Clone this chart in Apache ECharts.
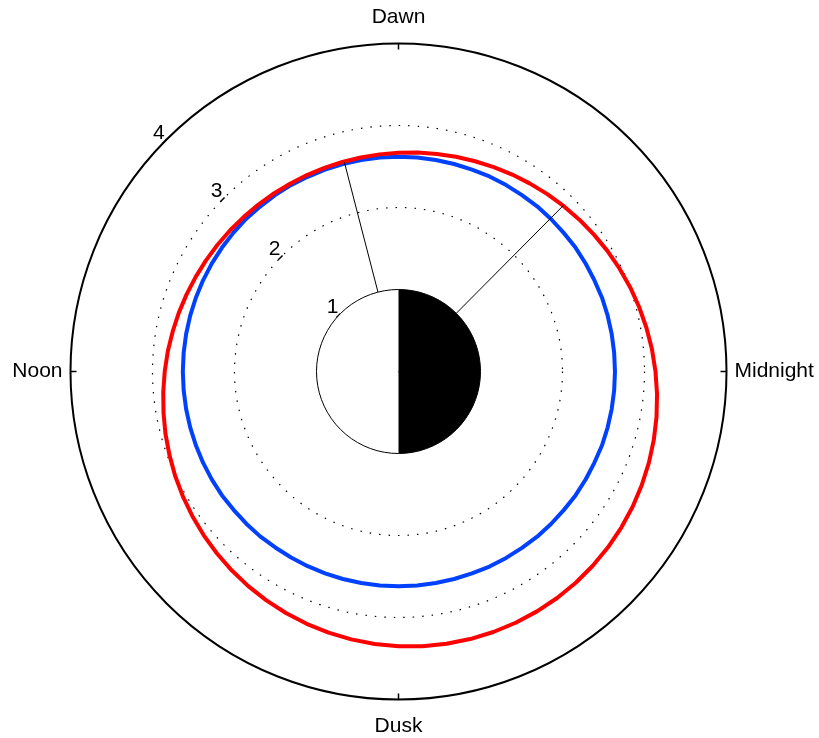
<!DOCTYPE html>
<html>
<head>
<meta charset="utf-8">
<script src="https://cdn.jsdelivr.net/npm/echarts@6/dist/echarts.min.js"></script>
<style>
html,body{margin:0;padding:0;background:#fff;}
#chart{width:819px;height:738px;}
</style>
</head>
<body>
<div id="chart"></div>
<script>
// ---- data ----
const sectorValues = [-180, -90, 0, 90];
const sectorNames = ['Noon', 'Dusk', 'Midnight', 'Dawn'];
const radialTicks = [1, 2, 3, 4];

const circleAngles = [
  -180, -175, -170, -165, -160, -155, -150, -145, -140, -135,
  -130, -125, -120, -115, -110, -105, -100, -95, -90,
  -85, -80, -75, -70, -65, -60, -55, -50, -45,
  -40, -35, -30, -25, -20, -15, -10, -5, 0,
  5, 10, 15, 20, 25, 30, 35, 40, 45,
  50, 55, 60, 65, 70, 75, 80, 85, 90,
  95, 100, 105, 110, 115, 120, 125, 130, 135,
  140, 145, 150, 155, 160, 165, 170, 175, 180
];
const blueRadius = [
  2.63, 2.63, 2.63, 2.63, 2.63, 2.63, 2.63, 2.63, 2.625, 2.625,
  2.625, 2.62, 2.62, 2.62, 2.62, 2.62, 2.62, 2.62, 2.62,
  2.62, 2.62, 2.62, 2.62, 2.625, 2.625, 2.625, 2.63, 2.63,
  2.63, 2.635, 2.635, 2.635, 2.64, 2.64, 2.64, 2.64, 2.64,
  2.64, 2.64, 2.64, 2.64, 2.635, 2.635, 2.635, 2.63, 2.63,
  2.63, 2.625, 2.625, 2.625, 2.62, 2.62, 2.62, 2.62, 2.62,
  2.62, 2.62, 2.62, 2.62, 2.62, 2.625, 2.625, 2.625, 2.63,
  2.63, 2.63, 2.63, 2.63, 2.63, 2.63, 2.63, 2.63, 2.63
];
const redRadius = [
  2.851, 2.880, 2.910, 2.942, 2.973, 3.006, 3.038, 3.070, 3.103, 3.134,
  3.165, 3.195, 3.223, 3.250, 3.274, 3.297, 3.317, 3.335, 3.350,
  3.363, 3.372, 3.378, 3.381, 3.381, 3.378, 3.372, 3.363, 3.350,
  3.335, 3.317, 3.297, 3.274, 3.250, 3.223, 3.195, 3.165, 3.134,
  3.103, 3.070, 3.038, 3.006, 2.973, 2.942, 2.910, 2.880, 2.851,
  2.824, 2.797, 2.773, 2.750, 2.729, 2.711, 2.694, 2.680, 2.667,
  2.658, 2.650, 2.645, 2.643, 2.643, 2.645, 2.650, 2.658, 2.667,
  2.680, 2.694, 2.711, 2.729, 2.750, 2.773, 2.797, 2.824, 2.851
];

const earthRadius = 1;
// night side: Dusk -> Midnight -> Dawn ; day side: Dawn -> Noon -> Dusk
const nightAngles = circleAngles.filter(a => a >= -90 && a <= 90);
const dayAnglesA = circleAngles.filter(a => a >= 90);
const dayAnglesB = circleAngles.filter(a => a <= -90);

const traceA = [[1, 104.5], [2.635, 104.5]];
const traceB = [[1, 45.2], [2.86, 45.2]];

// ---- chart ----
const FONT = 'Liberation Sans';
const CX = 398.5, CY = 371.5, R = 328;
const nameByValue = {};
sectorValues.forEach((v, i) => { nameByValue[v] = sectorNames[i]; });

const chart = echarts.init(document.getElementById('chart'), null, {renderer: 'canvas'});

function polarLine(data, extra) {
  return Object.assign({
    type: 'line',
    coordinateSystem: 'polar',
    polarIndex: 0,
    data: data,
    symbol: 'none',
    showSymbol: false,
    smooth: false,
    silent: true,
    animation: false
  }, extra);
}

const option = {
  backgroundColor: '#fff',
  animation: false,
  polar: [
    {center: [CX, CY], radius: R},
    {center: [CX, CY], radius: R}
  ],
  angleAxis: [
    {
      polarIndex: 0,
      type: 'value',
      min: -180, max: 180, interval: 90,
      startAngle: 180,
      clockwise: false,
      axisLine: {show: true, lineStyle: {color: '#000', width: 2}},
      axisTick: {show: true, inside: true, length: 6, lineStyle: {color: '#000', width: 1.5}},
      axisLabel: {
        show: true,
        margin: 8,
        color: '#000',
        fontFamily: FONT,
        fontSize: 21,
        formatter: function (v) {
          const n = nameByValue[v];
          if (!n) return '';
          return (v === 90 || v === -90) ? '{v|' + n + '}' : '{h|' + n + '}';
        },
        rich: {
          h: {fontFamily: FONT, fontSize: 21, color: '#000'},
          v: {fontFamily: FONT, fontSize: 21, color: '#000', lineHeight: 37}
        }
      },
      splitLine: {show: false}
    },
    {
      polarIndex: 1,
      type: 'value',
      min: 0, max: 360,
      startAngle: 135,
      clockwise: false,
      show: false
    }
  ],
  radiusAxis: [
    {
      polarIndex: 0,
      type: 'value',
      min: 0, max: 4, interval: 1,
      axisLine: {show: false},
      axisTick: {show: false},
      axisLabel: {show: false},
      splitLine: {
        show: true,
        lineStyle: {
          color: ['rgba(0,0,0,0)', 'rgba(0,0,0,0)', '#000', '#000', 'rgba(0,0,0,0)'],
          type: [1.5, 8],
          width: 1.2
        }
      }
    },
    {
      polarIndex: 1,
      type: 'value',
      min: 0, max: 4, interval: 1,
      axisLine: {show: false},
      axisTick: {show: true, length: 6, lineStyle: {color: '#000', width: 1.5}},
      axisLabel: {
        show: true,
        margin: 0,
        align: 'right',
        verticalAlign: 'bottom',
        lineHeight: 13,
        padding: [0, 2, 0, 0],
        color: '#000',
        fontFamily: FONT,
        fontSize: 21,
        formatter: function (v) { return radialTicks.indexOf(v) >= 0 ? String(v) : ''; }
      },
      splitLine: {show: false}
    }
  ],
  series: [
    polarLine(dayAnglesA.map(a => [earthRadius, a]), {
      lineStyle: {width: 0}, areaStyle: {color: '#fff', opacity: 1}, z: 3
    }),
    polarLine(dayAnglesB.map(a => [earthRadius, a]), {
      lineStyle: {width: 0}, areaStyle: {color: '#fff', opacity: 1}, z: 3
    }),
    polarLine(nightAngles.map(a => [earthRadius, a]), {
      lineStyle: {width: 0}, areaStyle: {color: '#000', opacity: 1}, z: 3
    }),
    polarLine(circleAngles.map(a => [earthRadius, a]), {
      lineStyle: {width: 1, color: '#000'}, z: 4
    }),
    polarLine(circleAngles.map((a, i) => [blueRadius[i], a]), {
      lineStyle: {width: 4, color: '#0040ff', join: 'round'}, z: 5
    }),
    polarLine(circleAngles.map((a, i) => [redRadius[i], a]), {
      lineStyle: {width: 4, color: '#ff0000', join: 'round'}, z: 6
    }),
    polarLine(traceA, {lineStyle: {width: 1, color: '#000'}, z: 7}),
    polarLine(traceB, {lineStyle: {width: 1, color: '#000'}, z: 7})
  ]
};

chart.setOption(option);
</script>
</body>
</html>
